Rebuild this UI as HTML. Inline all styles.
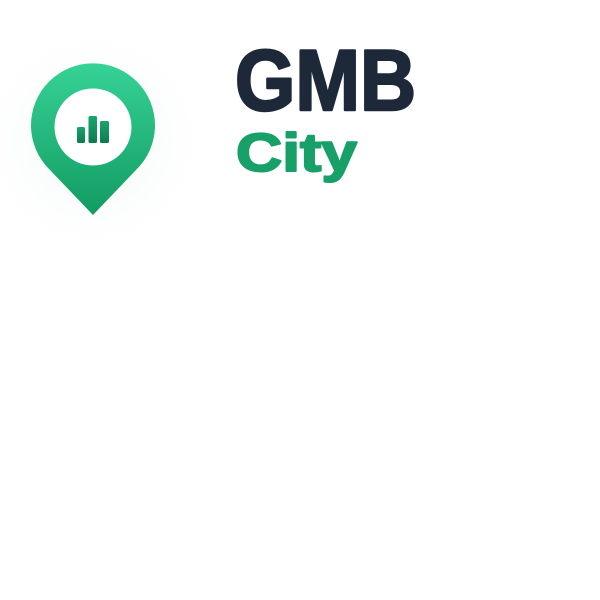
<!DOCTYPE html>
<html><head><meta charset="utf-8"><style>
html,body{margin:0;padding:0;background:#fff;width:600px;height:600px;overflow:hidden}
svg{display:block}
</style></head><body>
<svg width="600" height="600" viewBox="0 0 600 600">
<defs>
<linearGradient id="pg" x1="0" y1="0" x2="0" y2="1">
<stop offset="0" stop-color="#36d296"/><stop offset="1" stop-color="#129b62"/>
</linearGradient>
<linearGradient id="bg" x1="0" y1="0" x2="0" y2="1">
<stop offset="0" stop-color="#1aa56c"/><stop offset="1" stop-color="#0e7a4e"/>
</linearGradient>
<radialGradient id="glow" cx="0.5" cy="0.5" r="0.5">
<stop offset="0" stop-color="#e6f3ee" stop-opacity="0.7"/><stop offset="1" stop-color="#ffffff" stop-opacity="0"/>
</radialGradient>
</defs>
<circle cx="93" cy="140" r="125" fill="url(#glow)"/>
<path d="M93 215 L50 170 A62 62 0 1 1 136 170 Z" fill="url(#pg)"/>
<circle cx="93" cy="127" r="38.5" fill="#fff"/>
<g fill="url(#bg)">
<rect x="77" y="127" width="8" height="16" rx="1.5"/>
<rect x="88.5" y="116" width="8.5" height="27" rx="1.5"/>
<rect x="100" y="121" width="9" height="22" rx="1.5"/>
</g>
<text x="235" y="110" font-family="Liberation Sans, sans-serif" font-weight="bold" font-size="86" fill="#1d2939" stroke="#1d2939" stroke-width="2.5" stroke-linejoin="round" textLength="181" lengthAdjust="spacingAndGlyphs">GMB</text>
<text x="236" y="171" font-family="Liberation Sans, sans-serif" font-weight="bold" font-size="54" fill="#17a067" stroke="#17a067" stroke-width="2" stroke-linejoin="round" textLength="121" lengthAdjust="spacingAndGlyphs">City</text>
</svg>
</body></html>
